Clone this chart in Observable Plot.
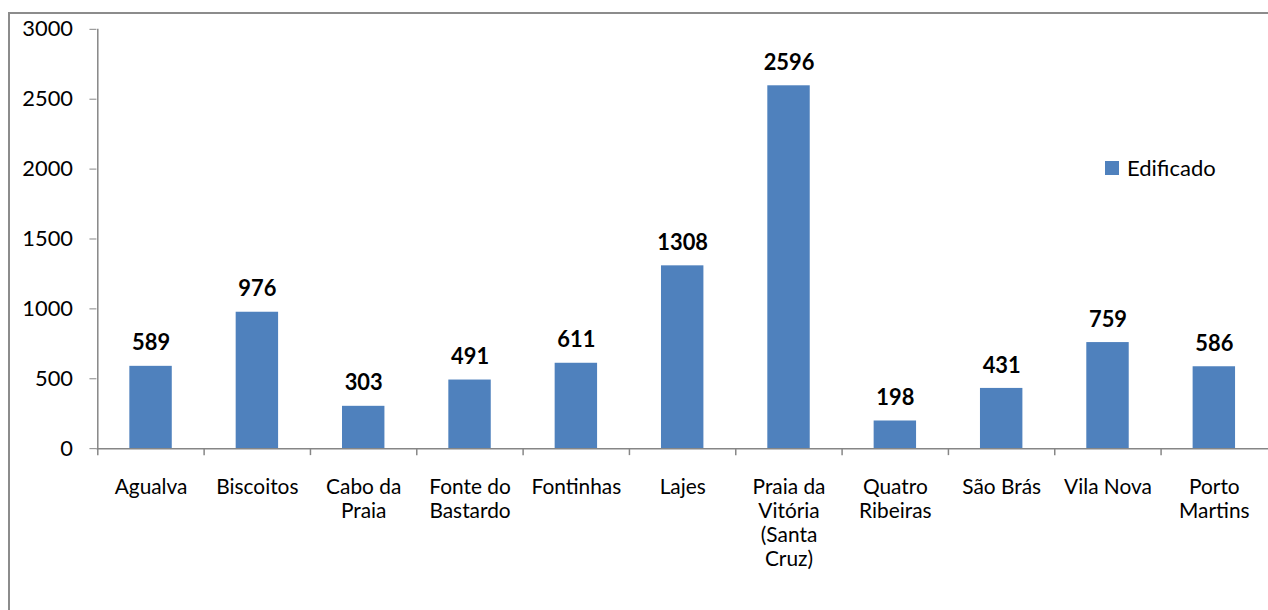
<!DOCTYPE html>
<html>
<head>
<meta charset="utf-8">
<script src="https://cdn.jsdelivr.net/npm/d3@7"></script>
<script src="https://cdn.jsdelivr.net/npm/@observablehq/plot@0.6"></script>
<style>
  html, body { margin: 0; padding: 0; background: #fff; overflow: hidden; width: 1268px; height: 610px; }
  #frame { position: absolute; left: 8px; top: 12px; width: 1400px; height: 800px; border: 2px solid #8c8c8c; box-sizing: border-box; }
  #chart { position: absolute; left: 0; top: 0; }
  #legend { position: absolute; left: 1105px; top: 154px; font-family: Lato, sans-serif; font-size: 22px; color: #000; display: flex; align-items: center; }
  #legend .sw { width: 14px; height: 14px; background: #4f81bd; margin-right: 8px; }
</style>
</head>
<body>
<div id="frame"></div>
<div id="chart"></div>
<div id="legend"><div class="sw"></div><span>Edificado</span></div>
<script>
const categories = ["Agualva", "Biscoitos", "Cabo da Praia", "Fonte do Bastardo", "Fontinhas", "Lajes", "Praia da Vitória (Santa Cruz)", "Quatro Ribeiras", "São Brás", "Vila Nova", "Porto Martins"];
const tickLabels = ["Agualva", "Biscoitos", "Cabo da\nPraia", "Fonte do\nBastardo", "Fontinhas", "Lajes", "Praia da\nVitória\n(Santa\nCruz)", "Quatro\nRibeiras", "São Brás", "Vila Nova", "Porto\nMartins"];
const edificado = [589, 976, 303, 491, 611, 1308, 2596, 198, 431, 759, 586];
const yTicks = [0, 500, 1000, 1500, 2000, 2500, 3000];

const data = categories.map((c, i) => ({cat: c, value: edificado[i]}));
const labelOf = new Map(categories.map((c, i) => [c, tickLabels[i]]));

const W = 1276, H = 610, mL = 97, mR = 0, mT = 29, mB = 159;
const step = (W - mL - mR) / categories.length;
const axisColor = "#868686";
const fs = 22;

const chart = Plot.plot({
  width: W,
  height: H,
  marginLeft: mL,
  marginRight: mR,
  marginTop: mT,
  marginBottom: mB,
  style: {fontFamily: "Lato, sans-serif", fontSize: fs + "px", color: "#000", background: "transparent"},
  x: {domain: categories, padding: 0, label: null},
  y: {domain: [0, 3000], label: null},
  marks: [
    Plot.barY(data, {x: "cat", y: "value", fill: "#4f81bd", insetLeft: step * 0.3, insetRight: step * 0.3}),
    Plot.ruleY([0], {stroke: axisColor, strokeWidth: 1.5}),
    Plot.ruleX([categories[0]], {y1: 0, y2: 3000, dx: -step / 2, stroke: axisColor, strokeWidth: 1.5}),
    Plot.ruleX(categories, {y1: 0, y2: 0, insetBottom: -7, dx: -step / 2, stroke: axisColor, strokeWidth: 1.5}),
    Plot.axisY({ticks: yTicks, tickSize: 7, tickPadding: 17, tickFormat: d => String(d), stroke: axisColor, fontSize: fs, fill: "#000"}),
    Plot.axisX({tickSize: 0, tickPadding: 28, tickFormat: d => labelOf.get(d), fontSize: 21, lineHeight: 1.15, fill: "#000"}),
    Plot.text(data, {x: "cat", y: "value", text: d => String(d.value), lineAnchor: "bottom", dy: -16, fontWeight: "bold", fontSize: fs, fill: "#000"})
  ]
});
document.getElementById("chart").appendChild(chart);
</script>
</body>
</html>
